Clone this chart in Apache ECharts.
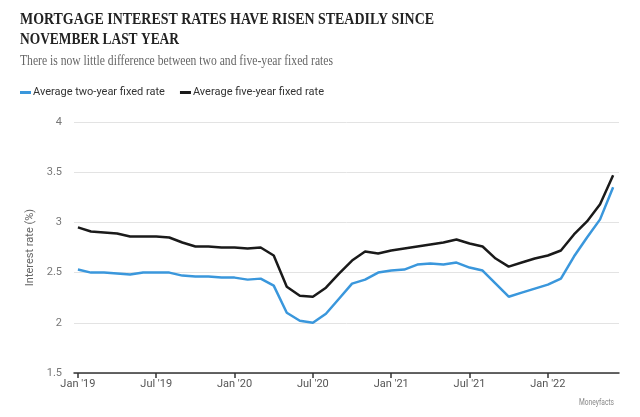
<!DOCTYPE html>
<html>
<head>
<meta charset="utf-8">
<script src="https://cdn.jsdelivr.net/npm/echarts@6/dist/echarts.min.js"></script>
<style>
  html, body { margin: 0; padding: 0; background: #fff; }
  #chart { width: 640px; height: 417px; }
</style>
</head>
<body>
<div id="chart"></div>
<script>
const months = [
  'Jan 2019','Feb 2019','Mar 2019','Apr 2019','May 2019','Jun 2019','Jul 2019','Aug 2019','Sep 2019','Oct 2019','Nov 2019','Dec 2019',
  'Jan 2020','Feb 2020','Mar 2020','Apr 2020','May 2020','Jun 2020','Jul 2020','Aug 2020','Sep 2020','Oct 2020','Nov 2020','Dec 2020',
  'Jan 2021','Feb 2021','Mar 2021','Apr 2021','May 2021','Jun 2021','Jul 2021','Aug 2021','Sep 2021','Oct 2021','Nov 2021','Dec 2021',
  'Jan 2022','Feb 2022','Mar 2022','Apr 2022','May 2022','Jun 2022'
];
const twoYearRate = [
  2.53, 2.50, 2.50, 2.49, 2.48, 2.50, 2.50, 2.50, 2.47, 2.46, 2.46, 2.45,
  2.45, 2.43, 2.44, 2.37, 2.10, 2.02, 2.00, 2.09, 2.24, 2.39, 2.43, 2.50,
  2.52, 2.53, 2.58, 2.59, 2.58, 2.60, 2.55, 2.52, 2.39, 2.26, 2.30, 2.34,
  2.38, 2.44, 2.66, 2.85, 3.03, 3.35
];
const fiveYearRate = [
  2.95, 2.91, 2.90, 2.89, 2.86, 2.86, 2.86, 2.85, 2.80, 2.76, 2.76, 2.75,
  2.75, 2.74, 2.75, 2.67, 2.36, 2.27, 2.26, 2.35, 2.49, 2.62, 2.71, 2.69,
  2.72, 2.74, 2.76, 2.78, 2.80, 2.83, 2.79, 2.76, 2.64, 2.56, 2.60, 2.64,
  2.67, 2.72, 2.88, 3.01, 3.18, 3.47
];
const tickMonths = ['Jan 2019','Jul 2019','Jan 2020','Jul 2020','Jan 2021','Jul 2021','Jan 2022'];
const tickLabels = ["Jan '19","Jul '19","Jan '20","Jul '20","Jan '21","Jul '21","Jan '22"];
const seriesNames = ['Average two-year fixed rate', 'Average five-year fixed rate'];
const titleLines = ['MORTGAGE INTEREST RATES HAVE RISEN STEADILY SINCE', 'NOVEMBER LAST YEAR'];
const subtitleText = 'There is now little difference between two and five-year fixed rates';
const sourceText = 'Moneyfacts';

const tickPos = tickMonths.map(m => months.indexOf(m));
const labelFor = {};
tickPos.forEach((p, i) => { labelFor[p] = tickLabels[i]; });

const sans = "Roboto, 'Liberation Sans', sans-serif";

// measure helper to fit headline widths
const mctx = document.createElement('canvas').getContext('2d');
function fitScale(text, font, target) {
  mctx.font = font;
  return target / mctx.measureText(text).width;
}
const titleFont = "bold 16px 'Liberation Serif', 'DejaVu Serif', serif";
const subFont = "normal 15.5px 'Liberation Serif', 'DejaVu Serif', serif";
const srcFont = "normal 9px Roboto, 'Liberation Sans', sans-serif";
const t1Scale = fitScale(titleLines[0], titleFont, 414);
const t2Scale = fitScale(titleLines[1], titleFont, 159);
const subScale = fitScale(subtitleText, subFont, 313);
const srcScale = fitScale(sourceText, srcFont, 35);

const chart = echarts.init(document.getElementById('chart'), null, { renderer: 'canvas' });
chart.setOption({
  animation: false,
  backgroundColor: '#fff',
  legend: {
    left: 20, top: 87, padding: 0,
    icon: 'rect', itemWidth: 11, itemHeight: 3, itemGap: 15,
    textStyle: { fontFamily: sans, fontSize: 11, color: '#333', padding: [0, 0, 0, -3] },
    data: seriesNames
  },
  grid: { left: 74, right: 21, top: 122, bottom: 44, containLabel: false },
  xAxis: {
    type: 'value', min: -0.3, max: 41.45,
    splitLine: { show: false },
    axisLine: { show: true, lineStyle: { color: '#333', width: 1.5 } },
    axisTick: { show: true, length: 5, customValues: tickPos, lineStyle: { color: '#333', width: 1.5 } },
    axisLabel: {
      customValues: tickPos, margin: 6,
      fontFamily: sans, fontSize: 11, color: '#555',
      formatter: v => labelFor[Math.round(v)] || ''
    }
  },
  yAxis: {
    type: 'value', min: 1.5, max: 4, interval: 0.5,
    name: 'Interest rate (%)', nameLocation: 'middle', nameGap: 36, nameRotate: 90,
    nameTextStyle: { fontFamily: sans, fontSize: 11, color: '#666' },
    axisLine: { show: false }, axisTick: { show: false },
    axisLabel: { margin: 12, fontFamily: sans, fontSize: 11, color: '#777' },
    splitLine: { lineStyle: { color: '#e3e3e3', width: 1 } }
  },
  series: [
    {
      name: seriesNames[0], type: 'line', symbol: 'none',
      lineStyle: { color: '#3a97dc', width: 2.5 }, itemStyle: { color: '#3a97dc' },
      data: twoYearRate.map((v, i) => [i, v])
    },
    {
      name: seriesNames[1], type: 'line', symbol: 'none',
      lineStyle: { color: '#1a1a1a', width: 2.5 }, itemStyle: { color: '#1a1a1a' },
      data: fiveYearRate.map((v, i) => [i, v])
    }
  ],
  graphic: [
    {
      type: 'text', x: 20, y: 12, scaleX: t1Scale,
      style: { text: titleLines[0], font: titleFont, fill: '#222', textVerticalAlign: 'top' }
    },
    {
      type: 'text', x: 20, y: 32, scaleX: t2Scale,
      style: { text: titleLines[1], font: titleFont, fill: '#222', textVerticalAlign: 'top' }
    },
    {
      type: 'text', x: 20, y: 53, scaleX: subScale,
      style: { text: subtitleText, font: subFont, fill: '#666', textVerticalAlign: 'top' }
    },
    {
      type: 'text', x: 614, y: 398, scaleX: srcScale,
      style: { text: sourceText, font: srcFont, fill: '#888', textAlign: 'right', textVerticalAlign: 'top' }
    }
  ]
});
</script>
</body>
</html>
